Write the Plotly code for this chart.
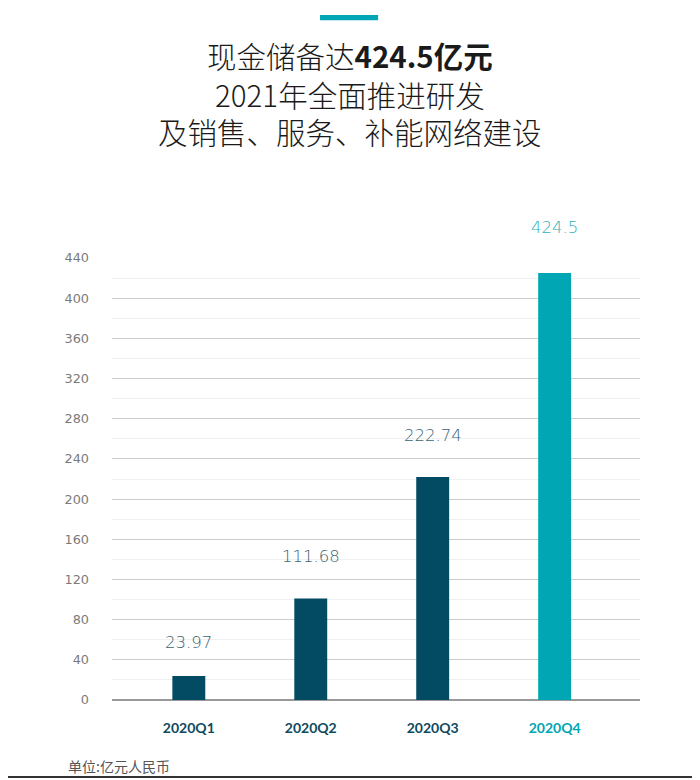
import plotly.graph_objects as go

# data
quarters = ["2020Q1", "2020Q2", "2020Q3", "2020Q4"]
bar_heights = [24, 101, 222, 425]
value_labels = ["23.97", "111.68", "222.74", "424.5"]
y_ticks = [0, 40, 80, 120, 160, 200, 240, 280, 320, 360, 400, 440]

dark = "#034a63"
teal = "#00a6b3"
bar_colors = [dark, dark, dark, teal]
label_colors = ["#3a6371", "#3a6371", "#3a6371", "#2fb0b8"]
label_lift = [22, 31, 30, 34]   # px gap between bar top and its label

num_font = "DejaVu Sans, sans-serif"
tick_font = "Lato, Open Sans, sans-serif"
cjk_font = "Noto Sans CJK SC, sans-serif"

fig = go.Figure()
fig.add_trace(go.Bar(
    x=list(range(len(quarters))),
    y=bar_heights,
    width=0.27,
    marker=dict(color=bar_colors, line=dict(width=0)),
    hoverinfo="skip",
    cliponaxis=False,
))

# value labels above bars
for i, (h, t) in enumerate(zip(bar_heights, value_labels)):
    fig.add_annotation(x=i, y=h, text=t, showarrow=False, yanchor="bottom",
                       yshift=label_lift[i],
                       font=dict(family=num_font, size=16.5, color=label_colors[i], weight=300))

tick_text = ["<b><span style='color:%s'>%s</span></b>" % (("#0d4a60" if i < 3 else teal), q)
             for i, q in enumerate(quarters)]

fig.update_xaxes(
    range=[-0.63, 3.70],
    tickvals=list(range(len(quarters))),
    ticktext=tick_text,
    tickfont=dict(family=tick_font, size=14),
    showgrid=False, zeroline=False, showline=False,
    ticks="", ticklabelstandoff=18,
)
fig.update_yaxes(
    range=[0, 440],
    tickvals=y_ticks,
    tickfont=dict(family=num_font, size=12.8, color="#7a7a7a"),
    gridcolor="#cccccc", gridwidth=1,
    minor=dict(dtick=20, showgrid=True, gridcolor="#f0f0f0", gridwidth=1),
    zeroline=True, zerolinecolor="#999999", zerolinewidth=2,
    showline=False, ticks="", ticklabelstandoff=22,
)

# title lines, centred on the page rather than on the plot area
title_font = dict(family=cjk_font, size=29.5, color="#1a1a1a", weight=300)
fig.add_annotation(xref="paper", yref="paper", x=0.451, y=1.46, yanchor="middle",
                   showarrow=False, text="现金储备达<b>424.5亿元</b>", font=title_font)
fig.add_annotation(xref="paper", yref="paper", x=0.451, y=1.37, yanchor="middle",
                   showarrow=False, text="2021年全面推进研发", font=title_font)
fig.add_annotation(xref="paper", yref="paper", x=0.451, y=1.288, yanchor="middle",
                   showarrow=False, text="及销售、服务、补能网络建设", font=title_font)

# footer
fig.add_annotation(xref="paper", yref="paper", x=-0.087, y=-0.149, xanchor="left",
                   yanchor="middle", showarrow=False, text="单位:亿元人民币",
                   font=dict(family=cjk_font, size=14, color="#555555"))

# teal accent bar at top
fig.add_shape(type="rect", xref="paper", yref="paper", x0=0.394, x1=0.504,
              y0=1.538, y1=1.550, fillcolor=teal, line=dict(width=0))
# frame (right and bottom edges)
fig.add_shape(type="line", xref="paper", yref="paper", x0=1.108, x1=1.108,
              y0=-0.18, y1=1.6, line=dict(color="#333333", width=2))
fig.add_shape(type="line", xref="paper", yref="paper", x0=-0.3, x1=1.108,
              y0=-0.174, y1=-0.174, line=dict(color="#333333", width=2))

# page has an 8px body margin, so the figure is made 8px smaller
fig.update_layout(
    width=692, height=772,
    margin=dict(l=104, r=60, t=250, b=80),
    plot_bgcolor="white", paper_bgcolor="white",
    showlegend=False,
)

fig.write_html("out.html")
